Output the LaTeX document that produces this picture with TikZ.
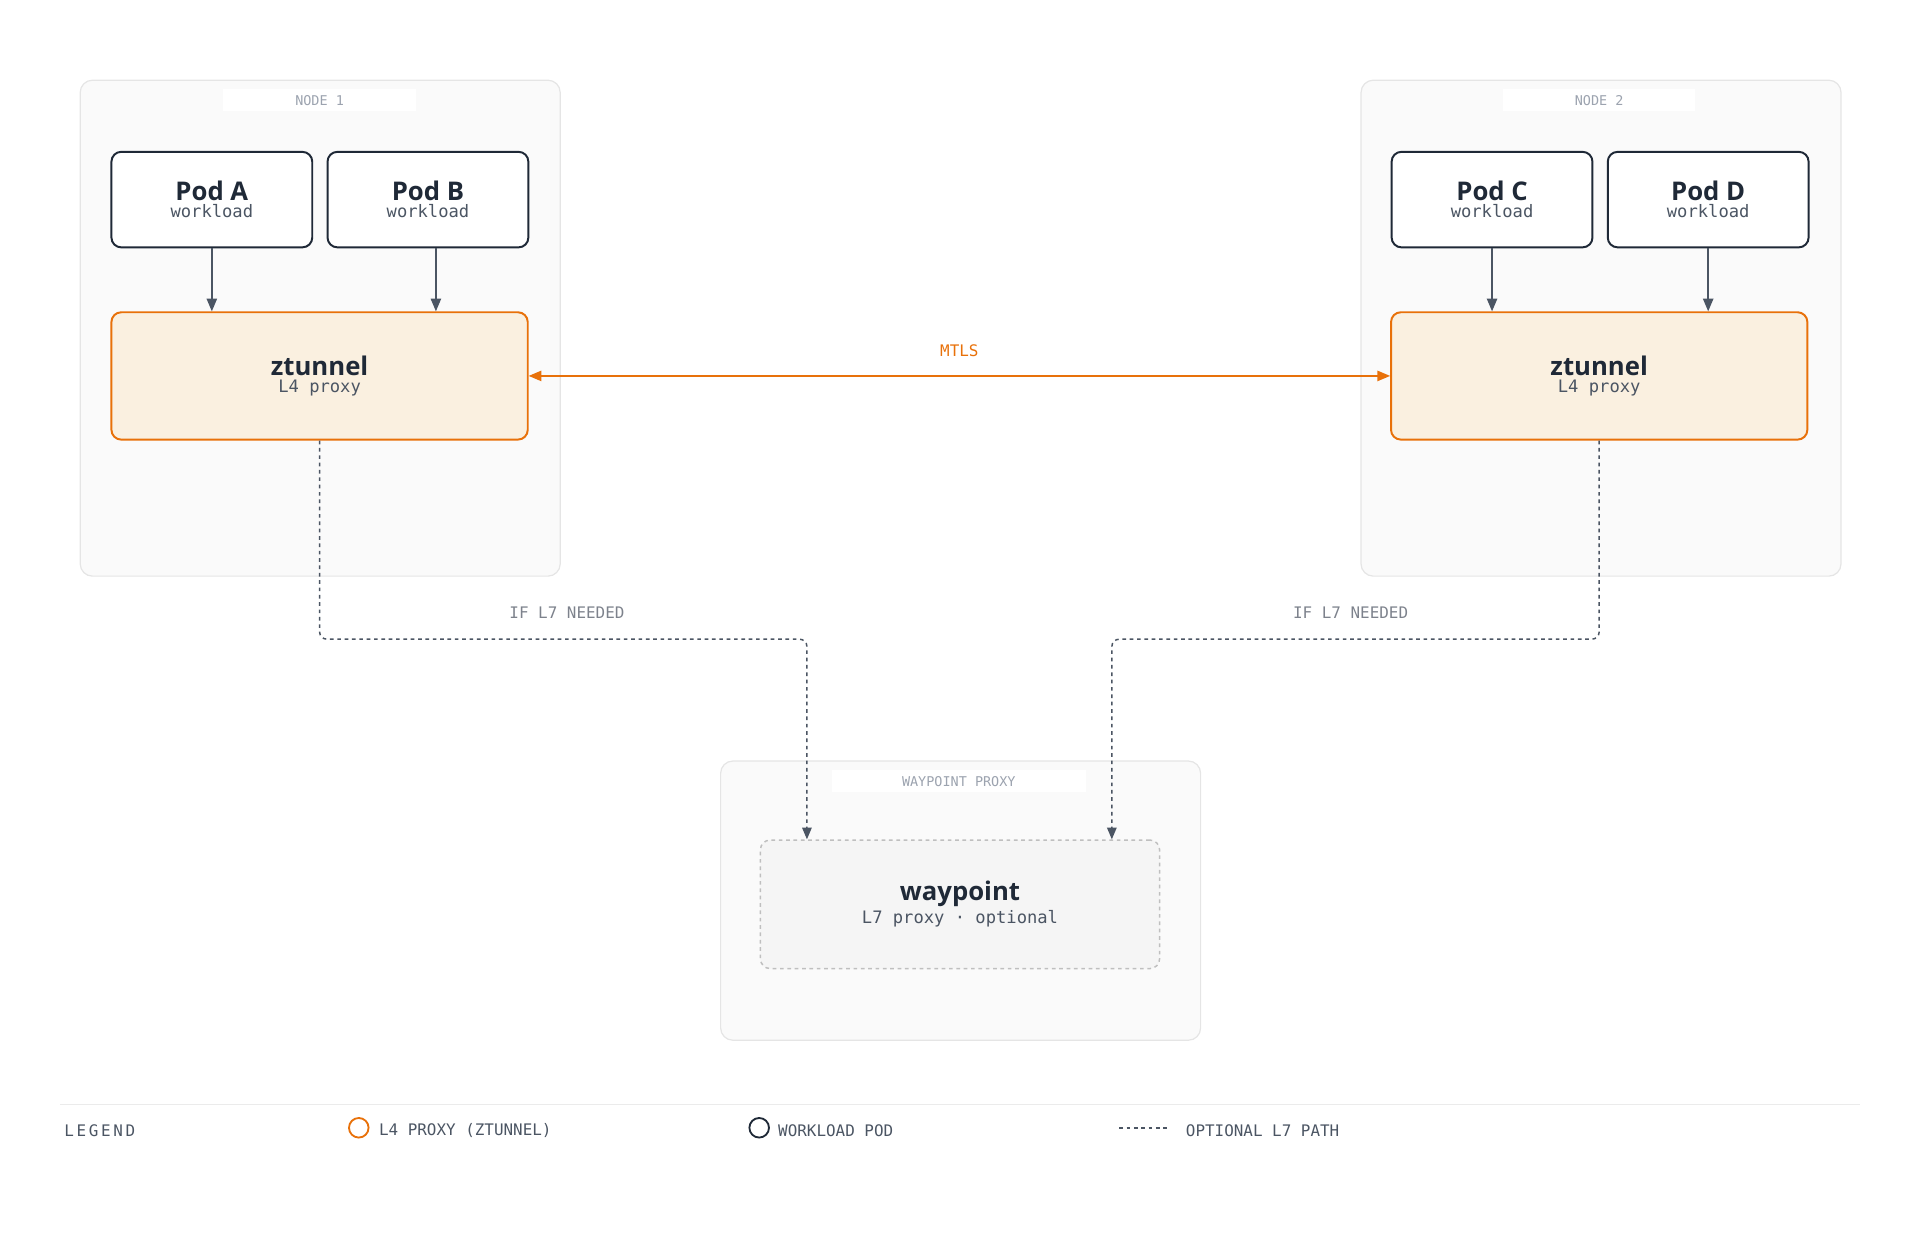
\documentclass[tikz,border=0pt]{standalone}
\usepackage{fontspec}
\setmainfont{Open Sans}
\setmonofont{DejaVu Sans Mono}
\usetikzlibrary{shapes,arrows,positioning}
\definecolor{navy}{HTML}{1F2937}
\definecolor{arrowgray}{HTML}{4B5563}
\definecolor{orng}{HTML}{E8710A}
\definecolor{peach}{HTML}{FAF0E0}
\definecolor{lblgray}{HTML}{9CA3AF}
\definecolor{txtgray}{HTML}{4B5563}
\tikzstyle{group} = [rectangle, draw=black!10, fill=black!2, line width=1pt,
  rounded corners=10pt, anchor=north west]
\tikzstyle{grouplabel} = [rectangle, fill=white, text=lblgray,
  font=\ttfamily\fontsize{11}{13}\selectfont, minimum height=18pt]
\tikzstyle{pod} = [rectangle, draw=navy, fill=white, line width=1.6pt,
  rounded corners=8pt, minimum width=164pt, minimum height=78pt, align=center]
\tikzstyle{proxy} = [rectangle, draw=orng, fill=peach, line width=1.6pt,
  rounded corners=8pt, minimum width=340pt, minimum height=104pt, align=center]
\tikzstyle{line} = [draw=arrowgray, line width=1.4pt, -triangle 45]
\tikzstyle{optional} = [draw=arrowgray, line width=1.2pt, dashed, rounded corners=6pt, -triangle 45]
\tikzstyle{tag} = [font=\ttfamily\fontsize{13}{15}\selectfont, text=txtgray]
\newcommand{\boxtext}[2]{{\fontsize{21}{25}\selectfont\bfseries\color{navy}#1}\\[2pt]
  {\ttfamily\fontsize{14}{17}\selectfont\color{txtgray}#2}}

\begin{document}
\begin{tikzpicture}[x=1pt, y=-1pt]
  \useasboundingbox (0,0) rectangle (1568,1013);

  % containers
  \node [group, minimum width=392pt, minimum height=405pt] (node1) at (65,65) {};
  \node [group, minimum width=392pt, minimum height=405pt] (node2) at (1111,65) {};
  \node [group, minimum width=392pt, minimum height=228pt] (wpgroup) at (588,621) {};
  \node [grouplabel, minimum width=157pt] (node1lbl) at (261,82) {NODE 1};
  \node [grouplabel, minimum width=157pt] (node2lbl) at (1306,82) {NODE 2};
  \node [grouplabel, minimum width=207pt] (wplbl) at (783,638) {WAYPOINT PROXY};

  % pods and proxies
  \node [pod] (podA) at (173,163) {\boxtext{Pod A}{workload}};
  \node [pod] (podB) at (349.5,163) {\boxtext{Pod B}{workload}};
  \node [pod] (podC) at (1218.5,163) {\boxtext{Pod C}{workload}};
  \node [pod] (podD) at (1395,163) {\boxtext{Pod D}{workload}};
  \node [proxy] (zt1) at (261,307) {\boxtext{ztunnel}{L4 proxy}};
  \node [proxy] (zt2) at (1306,307) {\boxtext{ztunnel}{L4 proxy}};
  \node [rectangle, draw=black!25, fill=black!4, line width=1.2pt, dashed,
    rounded corners=8pt, minimum width=326pt, minimum height=105pt, align=center]
    (waypoint) at (784,738.5) {\boxtext{waypoint}{L7 proxy · optional}};

  \path [line] (podA.south) -- (podA.south |- zt1.north);
  \path [line] (podB.south -| 356,0) -- (zt1.north -| 356,0);
  \path [line] (podC.south) -- (podC.south |- zt2.north);
  \path [line] (podD.south) -- (podD.south |- zt2.north);

  \path [draw=orng, line width=1.4pt, triangle 45-triangle 45] (zt1.east) -- (zt2.west)
    node [midway, above=12pt, font=\ttfamily\fontsize{13}{15}\selectfont, text=orng] (mtls) {MTLS};

  \coordinate (bendL) at (261,522);
  \coordinate (bendR) at (1306,522);
  \path [optional] (zt1.south) -- (bendL) -- (bendL -| 659,0) -- (waypoint.north -| 659,0);
  \path [optional] (zt2.south) -- (bendR) -- (bendR -| 908,0) -- (waypoint.north -| 908,0);
  \node [tag, text=lblgray!80!black] (l7left) at (463,500) {IF L7 NEEDED};
  \node [tag, text=lblgray!80!black] (l7right) at (1103,500) {IF L7 NEEDED};

  % legend
  \coordinate (ruleL) at (49,902);
  \coordinate (ruleR) at (1519,902);
  \draw [black!8, line width=1.5pt] (ruleL) -- (ruleR);
  \node [tag, anchor=west] (legend) at (49,923) {L\,E\,G\,E\,N\,D};
  \node [circle, draw=orng, line width=1.5pt, minimum size=16pt, inner sep=0pt] (l4dot) at (293,921) {};
  \node [tag, anchor=west] (l4txt) at (306,923) {L4 PROXY (ZTUNNEL)};
  \node [circle, draw=navy, line width=1.5pt, minimum size=16pt, inner sep=0pt] (poddot) at (620,921) {};
  \node [tag, anchor=west] (podtxt) at (632,923) {WORKLOAD POD};
  \coordinate (dashA) at (914,921);
  \coordinate (dashB) at (956,921);
  \draw [arrowgray, line width=1.4pt, dashed] (dashA) -- (dashB);
  \node [tag, anchor=west] (opttxt) at (965,923) {OPTIONAL L7 PATH};
\end{tikzpicture}
\end{document}
